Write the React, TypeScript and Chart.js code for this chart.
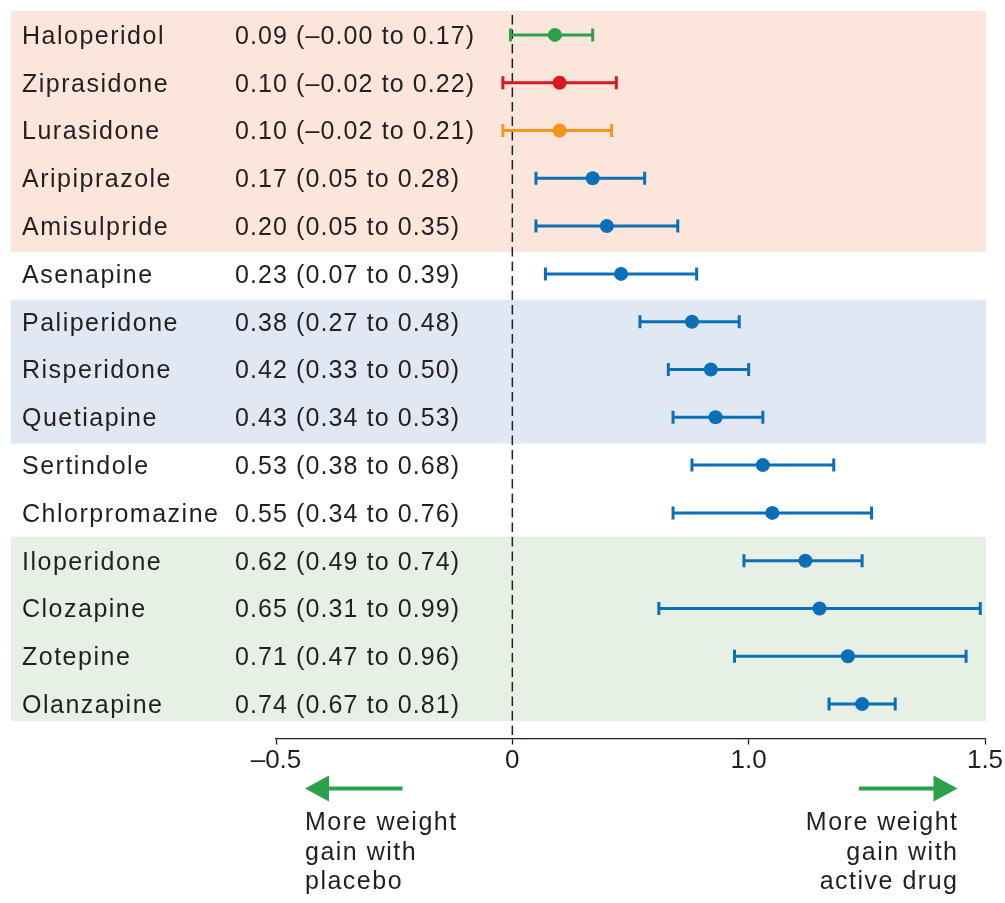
import React, { useEffect, useRef } from "react";
import { Chart, registerables } from "chart.js";

Chart.register(...registerables);

// ---- Data ----
const drugs = [
  "Haloperidol",
  "Ziprasidone",
  "Lurasidone",
  "Aripiprazole",
  "Amisulpride",
  "Asenapine",
  "Paliperidone",
  "Risperidone",
  "Quetiapine",
  "Sertindole",
  "Chlorpromazine",
  "Iloperidone",
  "Clozapine",
  "Zotepine",
  "Olanzapine",
];
const estimates = [0.09, 0.1, 0.1, 0.17, 0.2, 0.23, 0.38, 0.42, 0.43, 0.53, 0.55, 0.62, 0.65, 0.71, 0.74];
const lowerCI = [-0.004, -0.02, -0.02, 0.05, 0.05, 0.07, 0.27, 0.33, 0.34, 0.38, 0.34, 0.49, 0.31, 0.47, 0.67];
const upperCI = [0.17, 0.22, 0.21, 0.28, 0.35, 0.39, 0.48, 0.5, 0.53, 0.68, 0.76, 0.74, 0.99, 0.96, 0.81];
const pointColors = [
  "#2ba24a",
  "#d7191f",
  "#f7941d",
  "#0b6fb8",
  "#0b6fb8",
  "#0b6fb8",
  "#0b6fb8",
  "#0b6fb8",
  "#0b6fb8",
  "#0b6fb8",
  "#0b6fb8",
  "#0b6fb8",
  "#0b6fb8",
  "#0b6fb8",
  "#0b6fb8",
];
const xTickValues = [-0.5, 0, 0.5, 1.0];
const xTickLabels = ["\u20130.5", "0", "1.0", "1.5"];
const bandGroups = [
  { from: -0.5, to: 4.54, color: "#fce5db" },
  { from: 5.54, to: 8.55, color: "#e0e8f4" },
  { from: 10.5, to: 14.36, color: "#e6f0e4" },
];
const leftNote = ["More weight", "gain with", "placebo"];
const rightNote = ["More weight", "gain with", "active drug"];

const fmt = (v: number) => (v < 0 || Object.is(v, -0) ? "\u2013" : "") + Math.abs(v).toFixed(2);
const ciLabels = estimates.map((e, i) => `${fmt(e)} (${fmt(lowerCI[i])} to ${fmt(upperCI[i])})`);

const FONT = '"Liberation Sans", Arial, Helvetica, sans-serif';
const TEXT = "#231f20";
const ARROW = "#2ba24a";

export default function App() {
  const ref = useRef<HTMLCanvasElement>(null);

  useEffect(() => {
    document.body.style.margin = "0";
    const canvas = ref.current;
    if (!canvas) return;

    const decor = {
      id: "forestDecor",
      beforeDraw(chart: any) {
        const { ctx, chartArea, scales } = chart;
        const y = scales.y;
        ctx.save();
        for (const b of bandGroups) {
          const top = y.getPixelForValue(b.from);
          const bot = y.getPixelForValue(b.to);
          ctx.fillStyle = b.color;
          ctx.fillRect(11, top, chartArea.right + 1 - 11, bot - top);
        }
        ctx.restore();
      },
      beforeDatasetsDraw(chart: any) {
        const { ctx, chartArea, scales } = chart;
        const x = scales.x;
        const y = scales.y;
        ctx.save();
        const x0 = x.getPixelForValue(0);
        ctx.strokeStyle = TEXT;
        ctx.lineWidth = 1.5;
        ctx.setLineDash([9.5, 5]);
        ctx.beginPath();
        ctx.moveTo(x0, chartArea.top + 4);
        ctx.lineTo(x0, chartArea.bottom);
        ctx.stroke();
        ctx.setLineDash([]);
        estimates.forEach((_, i) => {
          const py = y.getPixelForValue(i);
          const xl = x.getPixelForValue(lowerCI[i]);
          const xh = x.getPixelForValue(upperCI[i]);
          ctx.strokeStyle = pointColors[i];
          ctx.lineWidth = 3;
          ctx.beginPath();
          ctx.moveTo(xl, py);
          ctx.lineTo(xh, py);
          ctx.moveTo(xl, py - 6.5);
          ctx.lineTo(xl, py + 6.5);
          ctx.moveTo(xh, py - 6.5);
          ctx.lineTo(xh, py + 6.5);
          ctx.stroke();
        });
        ctx.restore();
      },
      afterDraw(chart: any) {
        const { ctx, chartArea, scales } = chart;
        const y = scales.y;
        ctx.save();
        ctx.fillStyle = TEXT;
        ctx.textBaseline = "alphabetic";
        ctx.textAlign = "left";
        ctx.font = `25px ${FONT}`;
        drugs.forEach((d, i) => {
          const py = y.getPixelForValue(i);
          (ctx as any).letterSpacing = "1.5px";
          ctx.fillText(d, 22, py + 9);
          (ctx as any).letterSpacing = "1.1px";
          ctx.fillText(ciLabels[i], 235, py + 9);
        });

        // arrows
        const ay = chartArea.bottom + 50;
        ctx.strokeStyle = ARROW;
        ctx.fillStyle = ARROW;
        ctx.lineWidth = 4;
        const lTip = chartArea.left + 29;
        const lTail = chartArea.left + 126.5;
        ctx.beginPath();
        ctx.moveTo(lTail, ay);
        ctx.lineTo(lTip + 15, ay);
        ctx.stroke();
        ctx.beginPath();
        ctx.moveTo(lTip, ay);
        ctx.lineTo(lTip + 24, ay - 13);
        ctx.lineTo(lTip + 24, ay + 13);
        ctx.closePath();
        ctx.fill();
        const rTip = chartArea.right - 27.5;
        const rTail = chartArea.right - 126;
        ctx.beginPath();
        ctx.moveTo(rTail, ay);
        ctx.lineTo(rTip - 15, ay);
        ctx.stroke();
        ctx.beginPath();
        ctx.moveTo(rTip, ay);
        ctx.lineTo(rTip - 24, ay - 13);
        ctx.lineTo(rTip - 24, ay + 13);
        ctx.closePath();
        ctx.fill();

        // notes
        ctx.fillStyle = TEXT;
        (ctx as any).letterSpacing = "1.5px";
        const baseY = [91.5, 121, 150];
        leftNote.forEach((t, k) => {
          ctx.textAlign = "left";
          ctx.fillText(t, lTip, chartArea.bottom + baseY[k]);
        });
        rightNote.forEach((t, k) => {
          ctx.textAlign = "right";
          ctx.fillText(t, chartArea.right - 28 + 1.5, chartArea.bottom + baseY[k]);
        });
        ctx.restore();
      },
    };

    const chart = new Chart(canvas, {
      type: "scatter",
      data: {
        datasets: [
          {
            data: estimates.map((v, i) => ({ x: v, y: i })),
            pointRadius: 7,
            pointHoverRadius: 7,
            pointBackgroundColor: pointColors,
            pointBorderWidth: 0,
            borderWidth: 0,
          },
        ],
      },
      options: {
        responsive: false,
        animation: false,
        events: [],
        layout: { padding: { left: 276, right: 20, top: 11, bottom: 125.3 } },
        plugins: { legend: { display: false }, tooltip: { enabled: false } },
        scales: {
          x: {
            type: "linear",
            min: -0.5,
            max: 1.0,
            afterBuildTicks: (s: any) => {
              s.ticks = xTickValues.map((v) => ({ value: v }));
            },
            ticks: {
              autoSkip: false,
              maxRotation: 0,
              padding: 1,
              color: TEXT,
              font: { family: FONT, size: 26 },
              callback: (v: any) => {
                const k = xTickValues.indexOf(Number(v));
                return k >= 0 ? xTickLabels[k] : "";
              },
            },
            grid: {
              display: true,
              drawOnChartArea: false,
              drawTicks: true,
              tickLength: 6,
              tickWidth: 1.3,
              tickColor: TEXT,
            },
            border: { display: true, color: TEXT, width: 1.3 },
          },
          y: {
            type: "linear",
            display: false,
            reverse: true,
            min: -0.5,
            max: 14.72,
          },
        },
      },
      plugins: [decor],
    } as any);

    return () => chart.destroy();
  }, []);

  return (
    <div style={{ width: 1005, height: 903, background: "#fff" }}>
      <canvas ref={ref} width={1005} height={903} style={{ display: "block" }} />
    </div>
  );
}
